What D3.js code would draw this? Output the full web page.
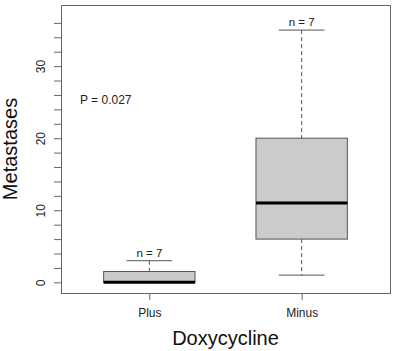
<!DOCTYPE html>
<html>
<head>
<meta charset="utf-8">
<script src="https://cdn.jsdelivr.net/npm/d3@7"></script>
<style>
  body { margin: 0; background: #fff; }
  svg { font-family: "Liberation Sans", Arial, sans-serif; }
</style>
</head>
<body>
<svg id="chart" width="400" height="351"></svg>
<script>
// box plot values
const groups = ["Plus", "Minus"];
const whiskerLow = [0, 1];
const quart1 = [0, 6];
const medians = [0, 11];
const quart3 = [1.5, 20];
const whiskerHigh = [3, 35];
const counts = [7, 7];
const yTicks = [0, 2, 4, 6, 8, 10, 12, 14, 16, 18, 20, 22, 24, 26, 28, 30, 32, 34, 36];
const yLabels = [0, 10, 20, 30];
const pText = "P = 0.027";

const margin = { top: 5, right: 10, bottom: 58, left: 61 };
const width = 400, height = 351;

const svg = d3.select("#chart");

const x = d3.scalePoint()
  .domain(groups)
  .range([margin.left, width - margin.right])
  .padding(0.58);

const y = d3.scaleLinear()
  .domain([-1.48, 38.48])
  .range([height - margin.bottom, margin.top]);

const step = x.step();
const boxW = step * 0.6;
const capW = boxW / 2;
const frameColor = "#666";

// y axis, every 2 units, labels on tens
const yAxis = svg.append("g")
  .attr("transform", "translate(" + margin.left + ",0)")
  .call(d3.axisLeft(y)
    .tickValues(yTicks)
    .tickSize(7)
    .tickPadding(3)
    .tickFormat(d => yLabels.includes(d) ? d : ""));
yAxis.select(".domain").remove();
yAxis.selectAll(".tick line").attr("stroke", frameColor);
yAxis.selectAll(".tick text")
  .attr("font-size", 12)
  .attr("fill", "#222")
  .attr("text-anchor", "middle")
  .attr("transform", "translate(-6,0) rotate(-90)")
  .attr("x", 0)
  .attr("dy", "0")
  .attr("y", -10);

// x axis ticks
const xAxis = svg.append("g")
  .attr("transform", "translate(0," + (height - margin.bottom) + ")")
  .call(d3.axisBottom(x).tickSize(7).tickPadding(8));
xAxis.select(".domain").remove();
xAxis.selectAll(".tick line").attr("stroke", frameColor);
xAxis.selectAll(".tick text").attr("font-size", 12).attr("fill", "#222");

// plot frame
svg.append("rect")
  .attr("x", margin.left + 0.5)
  .attr("y", margin.top + 0.5)
  .attr("width", width - margin.left - margin.right)
  .attr("height", height - margin.top - margin.bottom)
  .attr("fill", "none")
  .attr("stroke", frameColor);

const boxes = svg.append("g").selectAll("g")
  .data(groups)
  .join("g");

// dashed whiskers
boxes.append("line")
  .attr("x1", d => x(d)).attr("x2", d => x(d))
  .attr("y1", (d, i) => y(whiskerHigh[i]))
  .attr("y2", (d, i) => y(quart3[i]))
  .attr("stroke", "#555")
  .attr("stroke-dasharray", "4,3");
boxes.append("line")
  .attr("x1", d => x(d)).attr("x2", d => x(d))
  .attr("y1", (d, i) => y(quart1[i]))
  .attr("y2", (d, i) => y(whiskerLow[i]))
  .attr("stroke", "#555")
  .attr("stroke-dasharray", "4,3");

// caps
boxes.append("line")
  .attr("x1", d => x(d) - capW / 2).attr("x2", d => x(d) + capW / 2)
  .attr("y1", (d, i) => y(whiskerHigh[i]))
  .attr("y2", (d, i) => y(whiskerHigh[i]))
  .attr("stroke", "#555");
boxes.append("line")
  .attr("x1", d => x(d) - capW / 2).attr("x2", d => x(d) + capW / 2)
  .attr("y1", (d, i) => y(whiskerLow[i]))
  .attr("y2", (d, i) => y(whiskerLow[i]))
  .attr("stroke", "#555");

// box
boxes.append("rect")
  .attr("x", d => x(d) - boxW / 2)
  .attr("y", (d, i) => y(quart3[i]))
  .attr("width", boxW)
  .attr("height", (d, i) => y(quart1[i]) - y(quart3[i]))
  .attr("fill", "#cbcbcb")
  .attr("stroke", "#555");

// median
boxes.append("line")
  .attr("x1", d => x(d) - boxW / 2).attr("x2", d => x(d) + boxW / 2)
  .attr("y1", (d, i) => y(medians[i]))
  .attr("y2", (d, i) => y(medians[i]))
  .attr("stroke", "#000")
  .attr("stroke-width", 3);

// n labels
boxes.append("text")
  .attr("x", d => x(d))
  .attr("y", (d, i) => y(whiskerHigh[i]) - 4)
  .attr("text-anchor", "middle")
  .attr("font-size", 11.5)
  .attr("fill", "#222")
  .text((d, i) => "n = " + counts[i]);

svg.append("text")
  .attr("x", 80)
  .attr("y", y(24.7))
  .attr("font-size", 12)
  .attr("fill", "#222")
  .text(pText);

// axis titles
svg.append("text")
  .attr("x", (margin.left + width - margin.right) / 2)
  .attr("y", 345)
  .attr("text-anchor", "middle")
  .attr("font-size", 20)
  .attr("fill", "#111")
  .text("Doxycycline");

svg.append("text")
  .attr("transform", "translate(17," + y(18.5) + ") rotate(-90)")
  .attr("text-anchor", "middle")
  .attr("font-size", 20)
  .attr("fill", "#111")
  .text("Metastases");
</script>
</body>
</html>
